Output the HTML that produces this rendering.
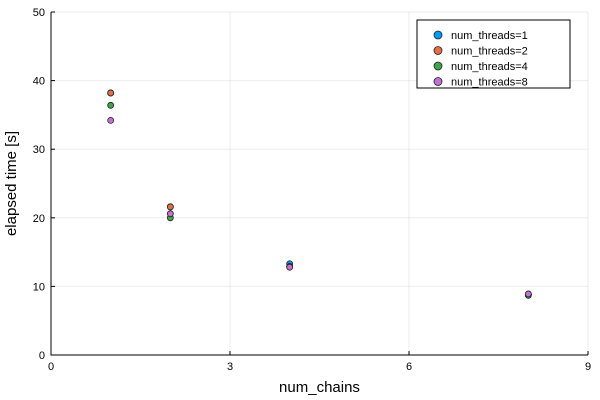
<!DOCTYPE html>
<html><head><meta charset="utf-8"><style>body{margin:0;background:#fff}svg{display:block;font-family:"Liberation Sans",sans-serif}</style></head>
<body>
<svg id="c" width="600" height="400"></svg>
<script>
const xCats=[1,2,4,8];
const seriesNames=["num_threads=1","num_threads=2","num_threads=4","num_threads=8"];
const t1=[38.2,21.6,13.3,8.8];
const t2=[38.2,21.6,12.9,8.8];
const t4=[36.4,20.0,12.9,8.7];
const t8=[34.2,20.6,12.8,8.9];
const xTicks=[0,3,6,9];
const yTicks=[0,10,20,30,40,50];
const colors=["#009af9","#e26f46","#3ea44e","#c371d2"];
const svg=document.getElementById('c');const NS="http://www.w3.org/2000/svg";
const L=51,R=588,T=12,B=355;
const xs=v=>L+(v-0)/9*(R-L), ys=v=>B-(v/50)*(B-T);
function mk(tag,a,p){const e=document.createElementNS(NS,tag);for(const k in a)e.setAttribute(k,a[k]);(p||svg).appendChild(e);return e;}
xTicks.forEach(t=>{const l=mk('line',{x1:xs(t),x2:xs(t),y1:T,y2:B,stroke:'#000','stroke-opacity':0.07});

const tx=mk('text',{x:xs(t),y:B+15,'font-size':11,'text-anchor':'middle'});tx.textContent=t;

mk('line',{x1:xs(t),x2:xs(t),y1:B,y2:B-4,stroke:'#000'});});
yTicks.forEach(t=>{const l=mk('line',{x1:L,x2:R,y1:ys(t),y2:ys(t),stroke:'#000','stroke-opacity':0.07});

const tx=mk('text',{x:L-6,y:ys(t)+4,'font-size':11,'text-anchor':'end'});tx.textContent=t;

mk('line',{x1:L,x2:L+4,y1:ys(t),y2:ys(t),stroke:'#000'});});
const ax=mk('path',{d:`M${L},${T}V${B}H${R}`,fill:'none',stroke:'#000'});

const xl=mk('text',{x:(L+R)/2,y:392,'font-size':15,'text-anchor':'middle'});xl.textContent='num_chains';

const yl=mk('text',{x:0,y:0,'font-size':15,'text-anchor':'middle',transform:`translate(16,${(T+B)/2}) rotate(-90)`});yl.textContent='elapsed time [s]';

[t1,t2,t4,t8].forEach((s,i)=>{s.forEach((v,j)=>{const c=mk('circle',{cx:xs(xCats[j]),cy:ys(v),r:3,fill:colors[i],stroke:'#222','stroke-width':0.8});
});});
const lg=mk('g',{});
mk('rect',{x:417,y:20,width:153,height:68,fill:'#fff',stroke:'#000','stroke-width':1},lg);
seriesNames.forEach((n,i)=>{const y=35+i*15.5;
mk('circle',{cx:438,cy:y,r:4,fill:colors[i],stroke:'#222','stroke-width':0.8},lg);
const t=mk('text',{x:451,y:y+4,'font-size':11},lg);t.textContent=n;
});
</script>
</body></html>
